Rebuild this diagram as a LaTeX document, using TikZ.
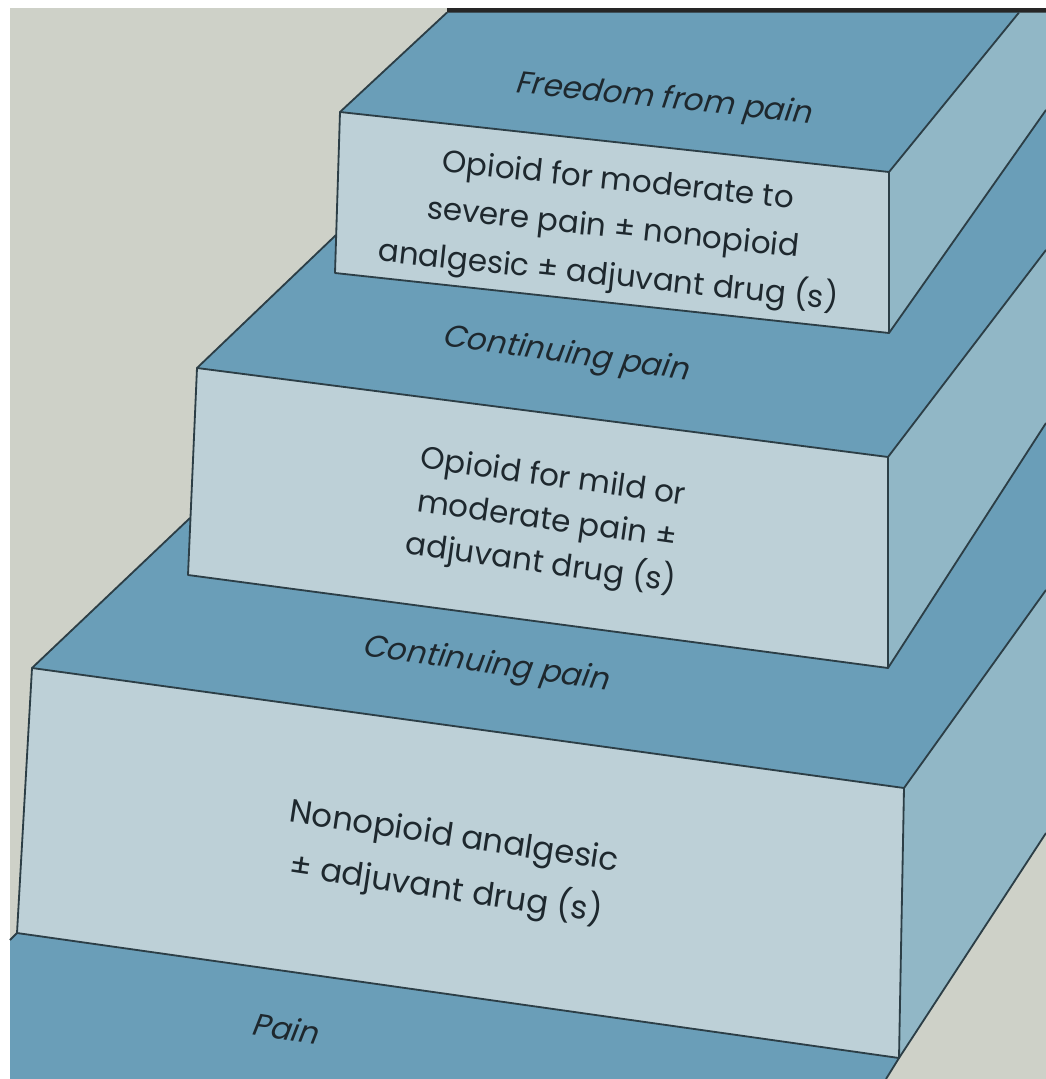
\documentclass[tikz,border=0pt]{standalone}
\usepackage{fontspec}
\setmainfont{Poppins}
\newfontfamily\slantfont{Poppins}[FakeSlant=0.22]

\definecolor{paper}{RGB}{206,209,200}
\definecolor{tread}{RGB}{106,158,184}
\definecolor{riser}{RGB}{189,208,215}
\definecolor{flank}{RGB}{145,183,198}
\definecolor{edge}{RGB}{44,62,70}
\definecolor{ink}{RGB}{30,40,46}

\begin{document}
\begin{tikzpicture}[x=0.025cm, y=-0.025cm, line width=1.3pt, line join=round,
                    lbl/.style={font=\slantfont\fontsize{22}{22}\selectfont, text=ink, inner sep=0pt},
                    txt/.style={font=\fontsize{22}{34}\selectfont, text=ink, align=center, inner sep=0pt}]

% full photo canvas, white rim on the left and top
\useasboundingbox (0,0) rectangle (1046,1079);
\fill[white] (0,0) rectangle (1046,1079);
\fill[paper] (10,8) rectangle (1046,1079);
\fill[black!85] (447,8) rectangle (1046,12.5);   % dark top edge

% ---- floor: Pain ----
\fill[tread] (10,940) -- (17,933) -- (899,1058) -- (886,1079) -- (10,1079) -- cycle;
\draw[edge] (10,940) -- (17,933)  (899,1058) -- (886,1079);
\node[lbl, rotate=-9] (pain) at (285,1028) {Pain};

% ---- step 1: bottom block ----
\coordinate (B1) at (32,668);  \coordinate (B2) at (904,788);
\coordinate (B3) at (899,1058); \coordinate (B4) at (17,933);
\fill[tread] (B1) -- (190,518) -- (188,575) -- (888,668) -- (1046,423) -- (1046,590) -- (B2) -- cycle;
\fill[flank] (B2) -- (1046,590) -- (1046,833) -- (B3) -- cycle;
\filldraw[fill=riser, draw=edge] (B1) -- (B2) -- (B3) -- (B4) -- cycle;   % front face
\draw[edge] (190,518) -- (B1)  (B2) -- (1046,590)  (1046,833) -- (B3);
\node[lbl, rotate=-8] (cont1) at (485,665) {Continuing pain};
\node[txt, rotate=-8.5, font=\fontsize{23}{38}\selectfont] (step1) at (450,865)
  {Nonopioid analgesic\\± adjuvant drug (s)};

% ---- step 2: middle block ----
\coordinate (M1) at (197,368); \coordinate (M2) at (888,457);
\coordinate (M3) at (888,668); \coordinate (M4) at (188,575);
\fill[tread] (M1) -- (336,235) -- (335,273) -- (889,333) -- (1046,110) -- (1046,250) -- (M2) -- cycle;
\fill[flank] (M2) -- (1046,250) -- (1046,423) -- (M3) -- cycle;
\filldraw[fill=riser, draw=edge] (M1) -- (M2) -- (M3) -- (M4) -- cycle;   % front face
\draw[edge] (336,235) -- (M1)  (M2) -- (1046,250)  (1046,423) -- (M3);
\node[lbl, rotate=-8] (cont2) at (565,355) {Continuing pain};
\node[txt, rotate=-8, font=\fontsize{22}{31}\selectfont] (step2) at (547,522)
  {Opioid for mild or\\moderate pain ±\\adjuvant drug (s)};

% ---- step 3: top block ----
\coordinate (T1) at (340,112); \coordinate (T2) at (889,172);
\coordinate (T3) at (889,333); \coordinate (T4) at (335,273);
\fill[tread] (T1) -- (447,12.5) -- (1019,12.5) -- (T2) -- cycle;
\fill[flank] (T2) -- (1019,12.5) -- (1046,12.5) -- (1046,110) -- (T3) -- cycle;
\filldraw[fill=riser, draw=edge] (T1) -- (T2) -- (T3) -- (T4) -- cycle;   % front face
\draw[edge] (447,12.5) -- (T1)  (T2) -- (1019,12.5)  (1046,110) -- (T3);
\node[lbl, rotate=-6] (freedom) at (663,100) {Freedom from pain};
\node[txt, rotate=-6] (step3) at (613,230)
  {Opioid for moderate to\\severe pain ± nonopioid\\analgesic ± adjuvant drug (s)};

\end{tikzpicture}
\end{document}
